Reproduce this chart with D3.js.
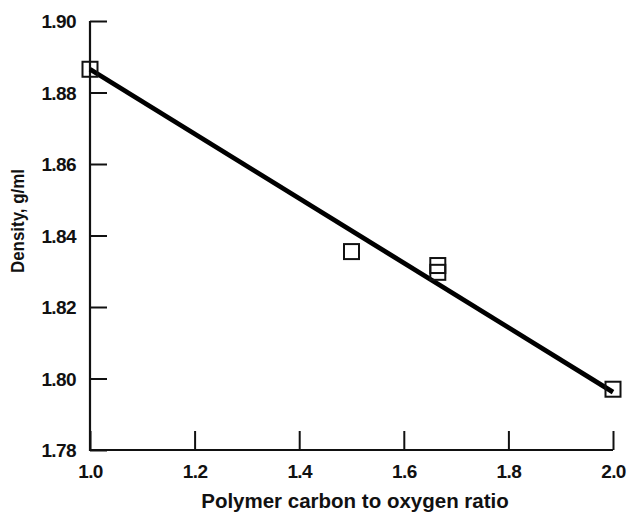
<!DOCTYPE html>
<html>
<head>
<meta charset="utf-8">
<script src="https://cdn.jsdelivr.net/npm/d3@7"></script>
<style>
  html, body { margin: 0; padding: 0; background: #fff; }
  svg text { font-family: "Liberation Sans", Arial, Helvetica, sans-serif; font-weight: bold; fill: #111; }
</style>
</head>
<body>
<svg id="chart" width="632" height="514"></svg>
<script>
// Measured samples: polymer C/O ratio vs density
const ratios = [1.0, 1.5, 1.665, 1.665, 2.0];
const densities = [1.8865, 1.8355, 1.8316, 1.8297, 1.797];

// Least-squares fit line endpoints
const fitRatios = [1.0, 2.0];
const fitDensities = [1.8865, 1.7962];

const xTicks = [1.0, 1.2, 1.4, 1.6, 1.8, 2.0];
const yTicks = [1.78, 1.80, 1.82, 1.84, 1.86, 1.88, 1.90];

const xTitle = "Polymer carbon to oxygen ratio";
const yTitle = "Density, g/ml";

const svg = d3.select("#chart");
const plot = { left: 90, right: 613, top: 21, bottom: 450 };

const x = d3.scaleLinear().domain([1.0, 2.0]).range([plot.left, plot.right]);
const y = d3.scaleLinear().domain([1.78, 1.90]).range([plot.bottom, plot.top]);

// Axes with inward-pointing ticks
const yAxis = d3.axisLeft(y).tickValues(yTicks).tickSize(-17)
  .tickFormat(d3.format(".2f"));
const xAxis = d3.axisBottom(x).tickValues(xTicks).tickSize(-19)
  .tickFormat(d3.format(".1f"));

const gy = svg.append("g").attr("transform", `translate(${plot.left},0)`).call(yAxis);
const gx = svg.append("g").attr("transform", `translate(0,${plot.bottom})`).call(xAxis);

[gy, gx].forEach(g => {
  g.select(".domain").remove();
  g.selectAll(".tick line").attr("stroke", "#111").attr("stroke-width", 2);
  g.selectAll(".tick text").attr("font-size", 19).attr("letter-spacing", -0.6).attr("fill", "#111");
});
gy.selectAll(".tick text").attr("x", -14).attr("dy", "0.36em");
gx.selectAll(".tick text").attr("y", 15).attr("dy", "0.71em");

// Axis lines (left and bottom only)
svg.append("path")
  .attr("d", `M${plot.left},${plot.top}V${plot.bottom}H${plot.right}`)
  .attr("fill", "none").attr("stroke", "#111").attr("stroke-width", 2.2);

// Fit line
const line = d3.line().x(d => x(d[0])).y(d => y(d[1]));
svg.append("path")
  .datum(d3.zip(fitRatios, fitDensities))
  .attr("d", line)
  .attr("fill", "none").attr("stroke", "#000").attr("stroke-width", 4.8);

// Square markers
const s = 15;
svg.append("g").selectAll("rect")
  .data(d3.zip(ratios, densities))
  .join("rect")
  .attr("x", d => x(d[0]) - s / 2)
  .attr("y", d => y(d[1]) - s / 2)
  .attr("width", s).attr("height", s)
  .attr("fill", "none")
  .attr("stroke", "#111").attr("stroke-width", 2);

// Axis titles
svg.append("text")
  .attr("x", 355).attr("y", 508)
  .attr("text-anchor", "middle").attr("font-size", 20.5)
  .text(xTitle);

svg.append("text")
  .attr("transform", "translate(24,221) rotate(-90)")
  .attr("text-anchor", "middle").attr("font-size", 19)
  .attr("textLength", 104).attr("lengthAdjust", "spacingAndGlyphs")
  .text(yTitle);
</script>
</body>
</html>
